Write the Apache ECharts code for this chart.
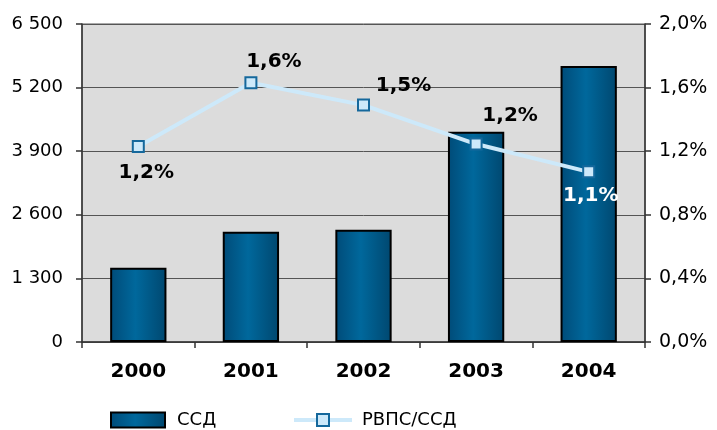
<!DOCTYPE html>
<html>
<head>
<meta charset="utf-8">
<script src="https://cdn.jsdelivr.net/npm/echarts@6/dist/echarts.min.js"></script>
<style>html,body{margin:0;padding:0;background:#fff}#c{width:717px;height:430px}</style>
</head>
<body>
<div id="c"></div>
<script>
const categories = ['2000', '2001', '2002', '2003', '2004'];
const ssdValues = [1520, 2255, 2296, 4300, 5640];
const ratioValues = [1.23, 1.63, 1.49, 1.245, 1.07];
const leftTicks = { min: 0, max: 6500, interval: 1300 };
const rightTicks = { min: 0, max: 2, interval: 0.4 };
const seriesNames = ['ССД', 'РВПС/ССД'];

const labelOffsets = [[8, 26], [23, -21], [40, -19], [34, -28], [2, 24]];
const labelColors = ['#000', '#000', '#000', '#000', '#fff'];

const fmtPct = v => v.toFixed(1).replace('.', ',') + '%';
const fmtNum = v => String(Math.round(v)).replace(/\B(?=(\d{3})+(?!\d))/g, ' ');

const barGradient = {
  type: 'linear', x: 0, y: 0, x2: 1, y2: 0,
  colorStops: [
    { offset: 0, color: '#004b78' },
    { offset: 0.45, color: '#00689c' },
    { offset: 1, color: '#00476f' }
  ]
};

const FONT = 'DejaVu Sans';
const chart = echarts.init(document.getElementById('c'));
chart.setOption({
  animation: false,
  textStyle: { fontFamily: FONT },
  grid: {
    left: 82, right: 72, top: 24, bottom: 88,
    show: true, backgroundColor: '#dcdcdc', borderColor: '#555', borderWidth: 1
  },
  legend: [
    {
      data: [{ name: seriesNames[0], icon: 'rect' }], left: 110, top: 411, padding: 0,
      itemWidth: 54, itemHeight: 15,
      textStyle: { fontFamily: FONT, fontSize: 18, color: '#000', padding: [0, 0, 0, 7] }
    },
    {
      data: [seriesNames[1]], left: 292, top: 411, padding: 0,
      itemWidth: 58, itemHeight: 15,
      lineStyle: { width: 4, color: '#cde9fa' },
      textStyle: { fontFamily: FONT, fontSize: 18, color: '#000', padding: [0, 0, 0, 5] }
    }
  ],
  xAxis: {
    type: 'category', data: categories,
    axisLine: { lineStyle: { color: '#333', width: 1.5 } },
    axisTick: { show: true, alignWithLabel: false, length: 6, lineStyle: { color: '#333', width: 1.5 } },
    axisLabel: { fontFamily: FONT, fontSize: 20, fontWeight: 'bold', color: '#000', margin: 20 }
  },
  yAxis: [
    {
      type: 'value', min: leftTicks.min, max: leftTicks.max, interval: leftTicks.interval,
      axisLine: { show: true, lineStyle: { color: '#333', width: 1.5 } },
      axisTick: { show: true, length: 6, lineStyle: { color: '#333', width: 1.5 } },
      splitLine: { show: true, lineStyle: { color: '#555', width: 1 } },
      axisLabel: { fontFamily: FONT, fontSize: 18, color: '#000', margin: 19, formatter: fmtNum }
    },
    {
      type: 'value', min: rightTicks.min, max: rightTicks.max, interval: rightTicks.interval,
      position: 'right',
      axisLine: { show: true, lineStyle: { color: '#333', width: 1.5 } },
      axisTick: { show: true, length: 6, lineStyle: { color: '#333', width: 1.5 } },
      splitLine: { show: false },
      axisLabel: { fontFamily: FONT, fontSize: 19, color: '#000', margin: 14, formatter: fmtPct }
    }
  ],
  series: [
    {
      name: seriesNames[0], type: 'bar', yAxisIndex: 0, barWidth: '50%',
      data: ssdValues,
      itemStyle: { color: barGradient, borderColor: '#000', borderWidth: 2 }
    },
    {
      name: seriesNames[1], type: 'line', yAxisIndex: 1,
      data: ratioValues.map((v, i) => ({
        value: v,
        label: { offset: labelOffsets[i], color: labelColors[i] }
      })),
      lineStyle: { color: '#cde9fa', width: 4 },
      symbol: 'rect', symbolSize: 11,
      itemStyle: { color: '#cde9fa', borderColor: '#15689c', borderWidth: 2 },
      label: {
        show: true, position: 'inside', fontFamily: FONT, fontSize: 20, fontWeight: 'bold',
        formatter: p => fmtPct(p.value)
      },
      z: 5
    }
  ]
});
</script>
</body>
</html>
